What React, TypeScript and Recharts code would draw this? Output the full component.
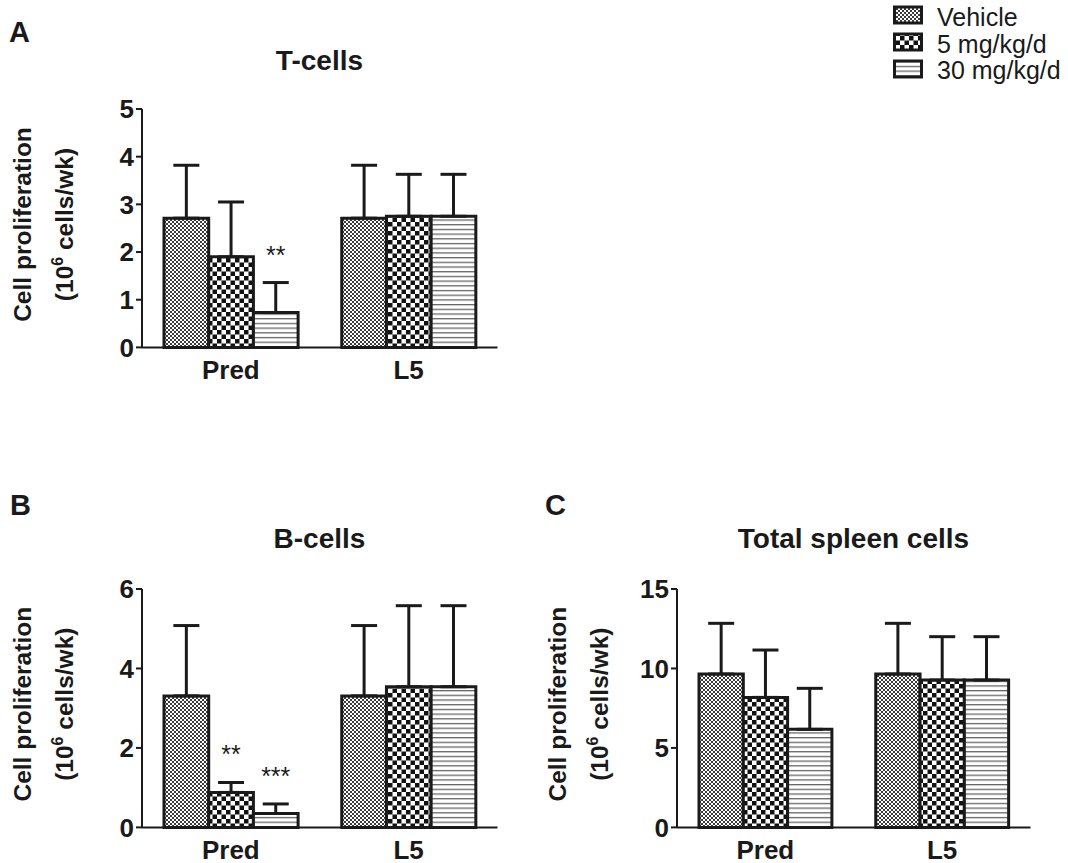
import { BarChart, Bar, XAxis, YAxis, ErrorBar, LabelList } from 'recharts'

const categories = ['Pred', 'L5']
const seriesNames = ['Vehicle', '5 mg/kg/d', '30 mg/kg/d']
const patternIds = ['pat-vehicle', 'pat-5mg', 'pat-30mg']

// T-cells (means and upper SEM)
const tVehicle = [2.71, 2.71]
const t5mg = [1.9, 2.75]
const t30mg = [0.73, 2.75]
const tVehicleErr = [1.11, 1.11]
const t5mgErr = [1.15, 0.88]
const t30mgErr = [0.63, 0.88]
const tStars = [['', ''], ['', ''], ['**', '']]
const tTicks = [0, 1, 2, 3, 4, 5]

// B-cells
const bVehicle = [3.31, 3.31]
const b5mg = [0.88, 3.54]
const b30mg = [0.35, 3.54]
const bVehicleErr = [1.77, 1.77]
const b5mgErr = [0.25, 2.04]
const b30mgErr = [0.24, 2.04]
const bStars = [['', ''], ['**', ''], ['***', '']]
const bTicks = [0, 2, 4, 6]

// Total spleen cells
const cVehicle = [9.65, 9.65]
const c5mg = [8.18, 9.27]
const c30mg = [6.17, 9.27]
const cVehicleErr = [3.19, 3.19]
const c5mgErr = [2.98, 2.73]
const c30mgErr = [2.58, 2.73]
const cStars = [['', ''], ['', ''], ['', '']]
const cTicks = [0, 5, 10, 15]

const ink = '#1a1a1a'
const font = '"Liberation Sans", Arial, sans-serif'
const plotH = 238.4

function buildRows(means: number[][], errs: number[][], stars: string[][]) {
  return categories.map((name, i) => ({
    name,
    v0: means[0][i],
    v1: means[1][i],
    v2: means[2][i],
    e0: [0, errs[0][i]],
    e1: [0, errs[1][i]],
    e2: [0, errs[2][i]],
    s0: stars[0][i],
    s1: stars[1][i],
    s2: stars[2][i],
  }))
}

const panels = [
  {
    letter: 'A', title: 'T-cells', axisX: 141.7, plotTop: 109.3, plotW: 355.5, barSize: 44.7,
    yMax: 5, ticks: tTicks, letterX: 9, letterY: 41.7, titleY: 70,
    rows: buildRows([tVehicle, t5mg, t30mg], [tVehicleErr, t5mgErr, t30mgErr], tStars),
  },
  {
    letter: 'B', title: 'B-cells', axisX: 141.7, plotTop: 589, plotW: 355.5, barSize: 44.7,
    yMax: 6, ticks: bTicks, letterX: 10, letterY: 515, titleY: 548,
    rows: buildRows([bVehicle, b5mg, b30mg], [bVehicleErr, b5mgErr, b30mgErr], bStars),
  },
  {
    letter: 'C', title: 'Total spleen cells', axisX: 676.7, plotTop: 589, plotW: 353.5, barSize: 44.3,
    yMax: 15, ticks: cTicks, letterX: 545, letterY: 515, titleY: 548,
    rows: buildRows([cVehicle, c5mg, c30mg], [cVehicleErr, c5mgErr, c30mgErr], cStars),
  },
]

type PanelCfg = (typeof panels)[number]

function starRenderer(k: number, rows: PanelCfg['rows'], pxPerUnit: number) {
  return (props: any) => {
    const value = props.value
    if (!value) return null
    const vb = props.viewBox ?? props
    let idx = props.index
    if (idx == null) idx = rows.findIndex((r: any) => r[`s${k}`] === value)
    const err = (rows[idx] as any)[`e${k}`][1]
    const cx = Number(vb.x) + Number(vb.width) / 2
    const top = Number(vb.y) - err * pxPerUnit
    return (
      <text x={cx} y={top - 19} textAnchor="middle" fontSize={25} fontFamily={font} fill={ink}>
        {value}
      </text>
    )
  }
}

function Panel({ cfg }: { cfg: PanelCfg }) {
  const padL = 150
  const padT = 40
  const padR = 12
  const xAxisH = 50
  const pxPerUnit = plotH / cfg.yMax
  return (
    <div style={{ position: 'absolute', left: cfg.axisX - padL, top: cfg.plotTop - padT }}>
      <BarChart
        width={padL + cfg.plotW + padR}
        height={padT + plotH + xAxisH}
        data={cfg.rows}
        margin={{ top: padT, right: padR, left: 0, bottom: 0 }}
        barGap={0}
        barSize={cfg.barSize}
      >
        <XAxis
          dataKey="name"
          height={xAxisH}
          tickLine={false}
          tickSize={0}
          tickMargin={13}
          axisLine={{ stroke: ink, strokeWidth: 2 }}
          tick={{ fill: ink, fontSize: 26, fontWeight: 700, fontFamily: font }}
        />
        <YAxis
          width={padL}
          domain={[0, cfg.yMax]}
          ticks={cfg.ticks}
          interval={0}
          tickSize={6}
          tickMargin={2}
          axisLine={{ stroke: ink, strokeWidth: 2 }}
          tickLine={{ stroke: ink, strokeWidth: 2 }}
          tick={{ fill: ink, fontSize: 26, fontWeight: 700, fontFamily: font }}
        />
        {[0, 1, 2].map((k) => (
          <Bar
            key={k}
            dataKey={`v${k}`}
            name={seriesNames[k]}
            fill={`url(#${patternIds[k]})`}
            stroke={ink}
            strokeWidth={3}
            isAnimationActive={false}
          >
            <ErrorBar dataKey={`e${k}`} direction="y" width={13} strokeWidth={3} stroke={ink} />
            <LabelList dataKey={`s${k}`} content={starRenderer(k, cfg.rows, pxPerUnit)} />
          </Bar>
        ))}
      </BarChart>
    </div>
  )
}

function Overlay() {
  return (
    <svg width={1068} height={863} style={{ position: 'absolute', left: 0, top: 0 }}>
      <defs>
        <pattern id="pat-vehicle" patternUnits="userSpaceOnUse" width={4} height={4}>
          <rect width={4} height={4} fill="#fff" />
          <rect x={0} y={0} width={2} height={2} fill="#3a3a3a" />
          <rect x={2} y={2} width={2} height={2} fill="#3a3a3a" />
        </pattern>
        <pattern id="pat-5mg" patternUnits="userSpaceOnUse" width={9} height={9}>
          <rect width={9} height={9} fill="#fff" />
          <rect x={0} y={0} width={4.5} height={4.5} fill="#111" />
          <rect x={4.5} y={4.5} width={4.5} height={4.5} fill="#111" />
        </pattern>
        <pattern id="pat-30mg" patternUnits="userSpaceOnUse" width={8} height={4.7}>
          <rect width={8} height={4.7} fill="#fff" />
          <rect x={0} y={0} width={8} height={1.3} fill="#666" />
        </pattern>
      </defs>

      {panels.map((p) => {
        const cy = p.plotTop + plotH / 2 - 4
        const x1 = p.axisX - 111
        const x2 = p.axisX - 69
        return (
          <g key={p.letter} fontFamily={font} fill={ink}>
            <text x={p.letterX} y={p.letterY} fontSize={29} fontWeight={700}>{p.letter}</text>
            <text x={p.axisX + p.plotW / 2} y={p.titleY} fontSize={28} fontWeight={700} textAnchor="middle">
              {p.title}
            </text>
            <text x={x1} y={cy} transform={`rotate(-90, ${x1}, ${cy})`} fontSize={24.5} fontWeight={700} textAnchor="middle">
              Cell proliferation
            </text>
            <text x={x2} y={cy} transform={`rotate(-90, ${x2}, ${cy})`} fontSize={24.5} fontWeight={700} textAnchor="middle">
              (10<tspan dy={-10} fontSize={16}>6</tspan>
              <tspan dy={10}> cells/wk)</tspan>
            </text>
          </g>
        )
      })}

      {seriesNames.map((name, i) => (
        <g key={name}>
          <rect x={894.5} y={7 + i * 27} width={27} height={16} fill={`url(#${patternIds[i]})`} stroke={ink} strokeWidth={3} />
          <text x={937} y={26 + i * 26.5} fontSize={25} fontFamily={font} fill={ink}>{name}</text>
        </g>
      ))}
    </svg>
  )
}

export default function App() {
  return (
    <div style={{ position: 'absolute', left: 0, top: 0, width: 1068, height: 863, background: '#fff' }}>
      <Overlay />
      {panels.map((p) => (
        <Panel key={p.letter} cfg={p} />
      ))}
    </div>
  )
}
